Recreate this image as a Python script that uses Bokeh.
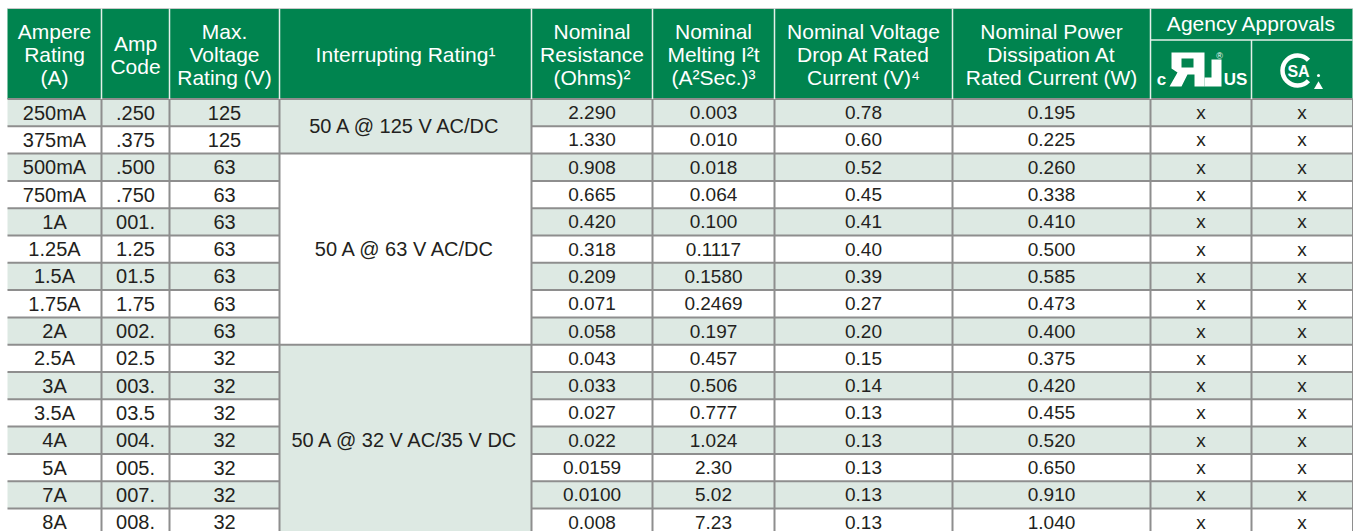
from bokeh.plotting import figure
from bokeh.models import Range1d
from bokeh.core.properties import value
from bokeh.embed import file_html
from bokeh.resources import INLINE

# ---------------- data ----------------
ampere_rating = ["250mA", "375mA", "500mA", "750mA", "1A", "1.25A", "1.5A", "1.75A",
                 "2A", "2.5A", "3A", "3.5A", "4A", "5A", "7A", "8A"]
amp_code = [".250", ".375", ".500", ".750", "001.", "1.25", "01.5", "1.75",
            "002.", "02.5", "003.", "03.5", "004.", "005.", "007.", "008."]
max_voltage = ["125", "125", "63", "63", "63", "63", "63", "63",
               "63", "32", "32", "32", "32", "32", "32", "32"]
interrupting_text = ["50 A @ 125 V AC/DC", "50 A @ 63 V AC/DC", "50 A @ 32 V AC/35 V DC"]
interrupting_first_row = [0, 2, 9]
interrupting_last_row = [2, 9, 16]
resistance = ["2.290", "1.330", "0.908", "0.665", "0.420", "0.318", "0.209", "0.071",
              "0.058", "0.043", "0.033", "0.027", "0.022", "0.0159", "0.0100", "0.008"]
melting_i2t = ["0.003", "0.010", "0.018", "0.064", "0.100", "0.1117", "0.1580", "0.2469",
               "0.197", "0.457", "0.506", "0.777", "1.024", "2.30", "5.02", "7.23"]
voltage_drop = ["0.78", "0.60", "0.52", "0.45", "0.41", "0.40", "0.39", "0.27",
                "0.20", "0.15", "0.14", "0.13", "0.13", "0.13", "0.13", "0.13"]
power_dissipation = ["0.195", "0.225", "0.260", "0.338", "0.410", "0.500", "0.585", "0.473",
                     "0.400", "0.375", "0.420", "0.455", "0.520", "0.650", "0.910", "1.040"]
ul_approval = ["x"] * 16
csa_approval = ["x"] * 16

header_labels = [
    ["Ampere", "Rating", "(A)"],
    ["Amp", "Code"],
    ["Max.", "Voltage", "Rating (V)"],
    ["Interrupting Rating\u00b9"],
    ["Nominal", "Resistance", "(Ohms)\u00b2"],
    ["Nominal", "Melting I\u00b2t", "(A\u00b2Sec.)\u00b3"],
    ["Nominal Voltage", "Drop At Rated", "Current (V)\u2074"],
    ["Nominal Power", "Dissipation At", "Rated Current (W)"],
]
agency_title = "Agency Approvals"

# ---------------- layout / style ----------------
col_edges = [7, 101, 169, 279, 531, 652, 774, 952, 1150, 1251, 1352]
head_top, head_bot = 8, 98.5
agency_split = 39.5
row_h = 27.3
line_gap = 23
GREEN = "#00844f"
LIGHT = "#dde9e3"
GRID = "#8e8e8e"
TXT = "#231f20"
FONT = "Liberation Sans"

n = len(ampere_rating)
tops = [head_bot + i * row_h for i in range(n)]
bots = [t + row_h for t in tops]
mids = [t + row_h / 2 for t in tops]
centers = [(col_edges[i] + col_edges[i + 1]) / 2 for i in range(len(col_edges) - 1)]

p = figure(width=1359, height=531, x_range=Range1d(0, 1359), y_range=Range1d(531, 0),
           output_backend="svg", toolbar_location=None, min_border=0,
           x_axis_type=None, y_axis_type=None, outline_line_color=None,
           background_fill_color="white", border_fill_color="white")
p.xgrid.visible = False
p.ygrid.visible = False

# row backgrounds
p.quad(left=col_edges[0], right=col_edges[-1], top=tops, bottom=bots,
       fill_color=[LIGHT if i % 2 == 0 else "white" for i in range(n)], line_color=None)
# merged interrupting cells
p.quad(left=col_edges[3], right=col_edges[4],
       top=[tops[a] for a in interrupting_first_row],
       bottom=[bots[b - 1] for b in interrupting_last_row],
       fill_color=[LIGHT, "white", LIGHT], line_color=None)

# grid lines
hx0, hx1, hy = [], [], []
for i in range(1, n + 1):
    y = head_bot + i * row_h
    hx0 += [col_edges[0], col_edges[4]]
    hx1 += [col_edges[3], col_edges[-1]]
    hy += [y, y]
for b in interrupting_last_row[:-1]:
    hx0.append(col_edges[3]); hx1.append(col_edges[4]); hy.append(head_bot + b * row_h)
p.segment(x0=hx0, x1=hx1, y0=hy, y1=hy, line_color=GRID, line_width=2)
vx = col_edges[1:-1]
p.segment(x0=vx, x1=vx, y0=[head_bot] * len(vx), y1=[540] * len(vx), line_color=GRID, line_width=2)
p.segment(x0=[col_edges[-1]], x1=[col_edges[-1]], y0=[head_bot], y1=[540], line_color=GRID, line_width=1)

# header
p.quad(left=col_edges[0], right=col_edges[-1], top=head_top, bottom=head_bot,
       fill_color=GREEN, line_color=None)
p.segment(x0=[col_edges[0]], x1=[col_edges[-1]], y0=[head_top], y1=[head_top],
          line_color="#c8c8c8", line_width=1)
p.segment(x0=[col_edges[0]], x1=[col_edges[-1]], y0=[head_bot], y1=[head_bot],
          line_color=GRID, line_width=2)
hv = col_edges[1:-2]
p.segment(x0=hv, x1=hv, y0=[head_top] * len(hv), y1=[head_bot] * len(hv),
          line_color="#e4f0ea", line_width=1.5)
p.segment(x0=[col_edges[9]], x1=[col_edges[9]], y0=[agency_split], y1=[head_bot],
          line_color="#e4f0ea", line_width=1.5)
p.segment(x0=[col_edges[8]], x1=[col_edges[-1]], y0=[agency_split], y1=[agency_split],
          line_color="#e4f0ea", line_width=1.5)

head_mid = (head_top + head_bot) / 2 + 1
hxs, hys, hts = [], [], []
for ci, lines in enumerate(header_labels):
    k = len(lines)
    for j, t in enumerate(lines):
        hxs.append(centers[ci])
        hys.append(head_mid + (j - (k - 1) / 2) * line_gap)
        hts.append(t)
p.text(x=hxs, y=hys, text=hts, text_font=value(FONT), text_font_size="21px",
       text_color="white", text_align="center", text_baseline="middle")
p.text(x=[(col_edges[8] + col_edges[-1]) / 2], y=[23], text=[agency_title],
       text_font=value(FONT), text_font_size="21px", text_color="white",
       text_align="center", text_baseline="middle")

# UL recognized mark (drawn)
p.patch(x=[1171, 1204, 1204, 1194, 1194, 1187, 1181, 1169, 1177, 1171],
        y=[52, 52, 86, 86, 74, 74, 86, 86, 72, 68], fill_color="white", line_color=None)
p.quad(left=1181, right=1193, top=58, bottom=67, fill_color=GREEN, line_color=None)
p.patch(x=[1194, 1221, 1221, 1211, 1211, 1204, 1204, 1194],
        y=[86, 86, 59, 59, 77, 77, 86, 86], fill_color="white", line_color=None)
p.text(x=[1161, 1235], y=[79, 79], text=["c", "US"], text_font=value(FONT),
       text_font_style="bold", text_font_size="17px", text_color="white",
       text_align="center", text_baseline="middle")
p.text(x=[1219], y=[55], text=["\u00ae"], text_font=value(FONT), text_font_size="9px",
       text_color="white", text_align="center", text_baseline="middle")

# CSA mark (drawn)
p.arc(x=[1297], y=[70], radius=15, start_angle=0.75, end_angle=5.53,
      line_color="white", line_width=4.5)
p.text(x=[1298], y=[71], text=["SA"], text_font=value(FONT), text_font_style="bold",
       text_font_size="16px", text_color="white", text_align="center", text_baseline="middle")
p.scatter(x=[1318], y=[75], size=3, marker="circle", fill_color="white", line_color=None)
p.scatter(x=[1318], y=[86], size=9, marker="triangle", fill_color="white", line_color=None)

# body text
normal_cols = [(0, ampere_rating), (1, amp_code), (2, max_voltage)]
for ci, vals in normal_cols:
    p.text(x=[centers[ci]] * n, y=mids, text=vals, text_font=value(FONT),
           text_font_size="20px", text_color=TXT, text_align="center", text_baseline="middle")
p.text(x=[centers[3]] * 3,
       y=[(tops[a] + bots[b - 1]) / 2 for a, b in zip(interrupting_first_row, interrupting_last_row)],
       text=interrupting_text, text_font=value(FONT), text_font_size="20px",
       text_color=TXT, text_align="center", text_baseline="middle")
narrow_cols = [(4, resistance), (5, melting_i2t), (6, voltage_drop), (7, power_dissipation),
               (8, ul_approval), (9, csa_approval)]
for ci, vals in narrow_cols:
    p.text(x=[centers[ci]] * n, y=mids, text=vals, text_font=value(FONT),
           text_font_size="19px", text_color=TXT, text_align="center", text_baseline="middle")

open("out.html", "w").write(file_html(p, INLINE))
